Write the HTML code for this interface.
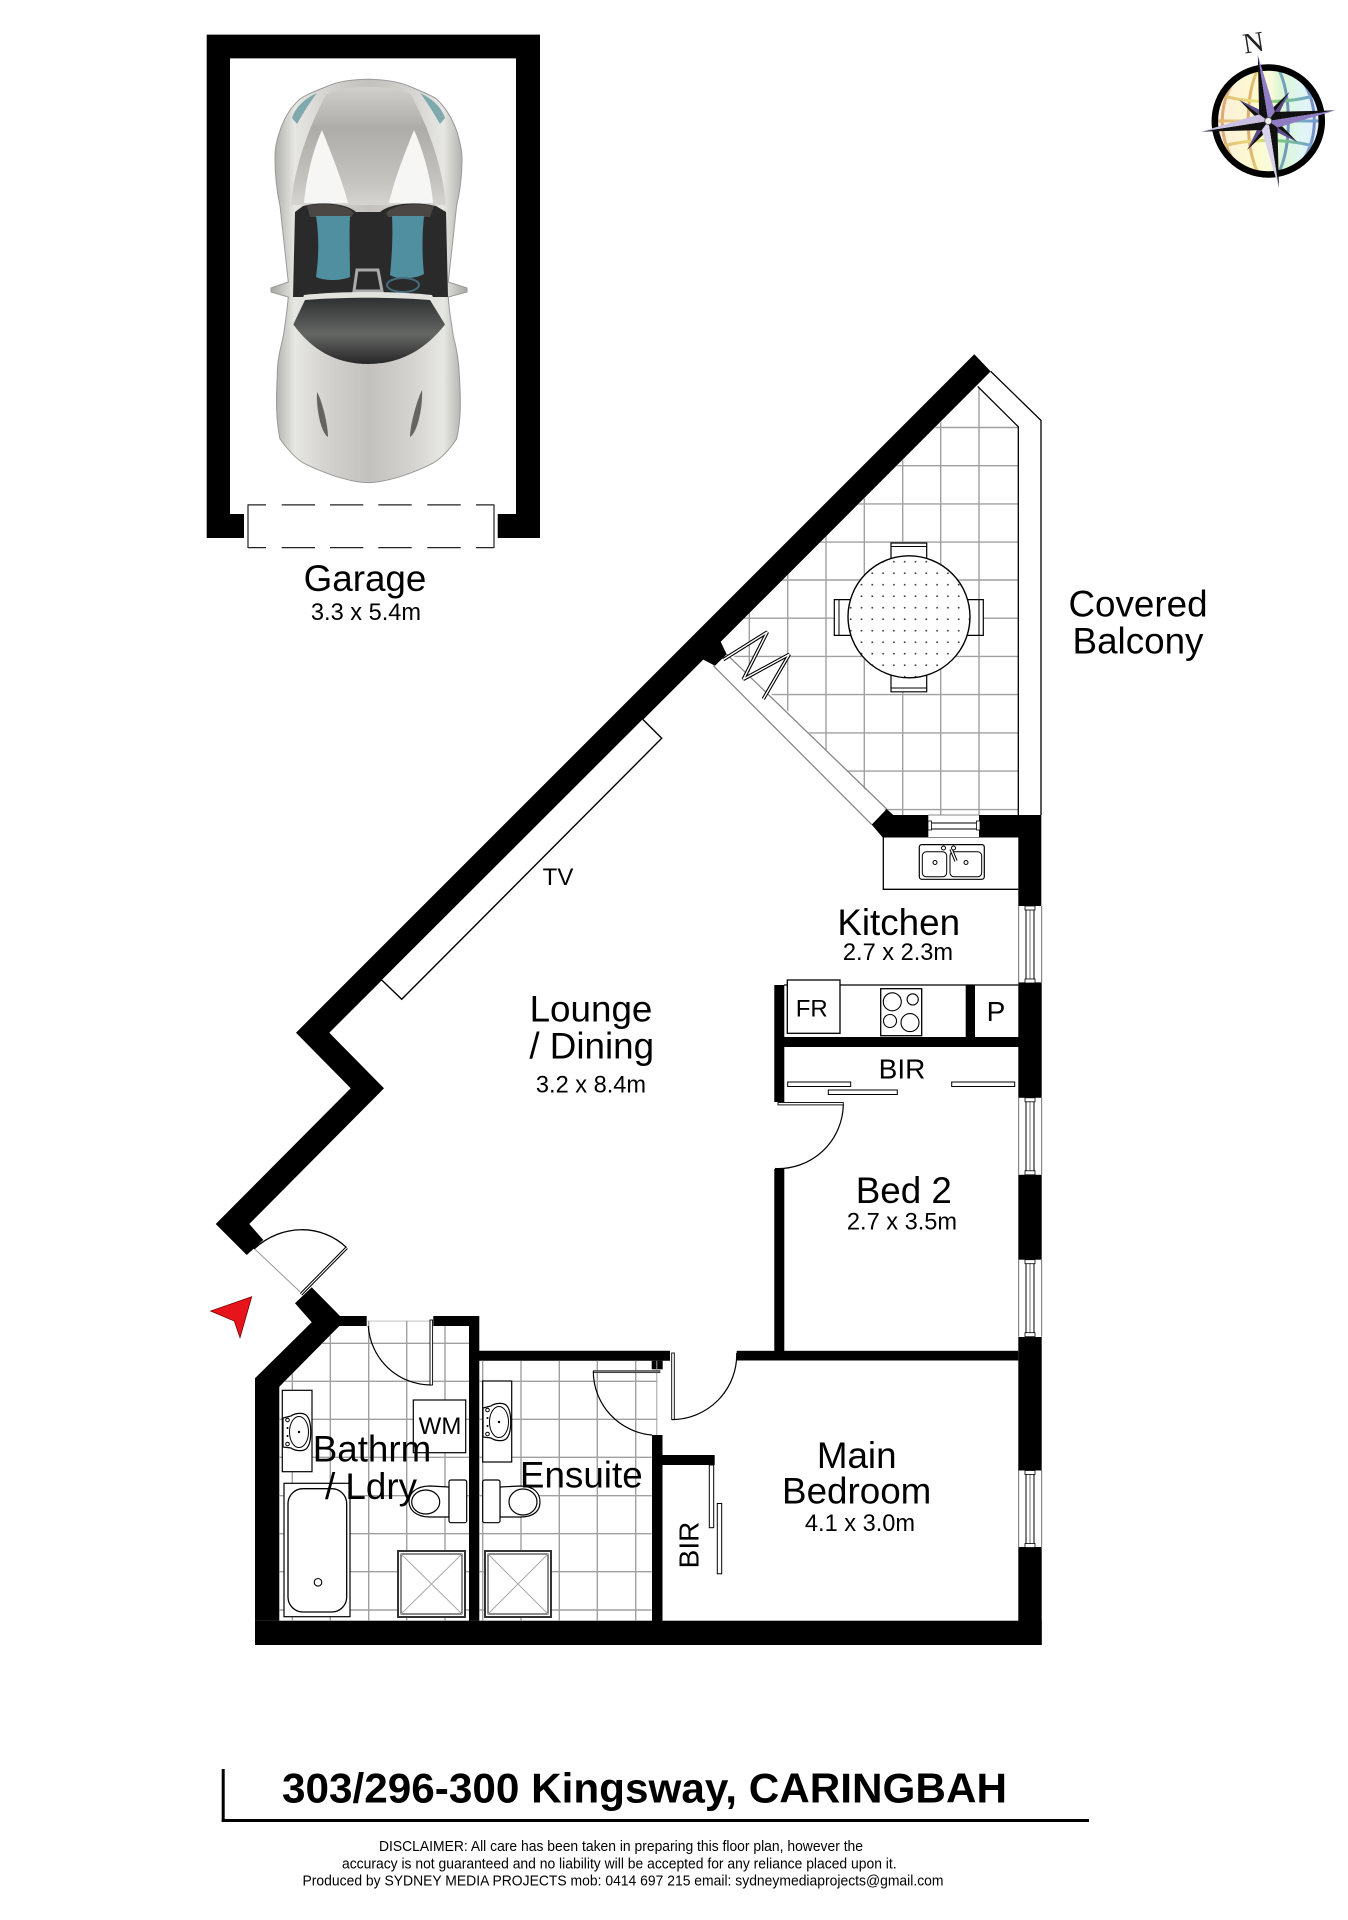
<!DOCTYPE html>
<html><head><meta charset="utf-8"><title>303/296-300 Kingsway, CARINGBAH</title>
<style>html,body{margin:0;padding:0;background:#fff}svg{display:block}
text{font-family:"Liberation Sans",sans-serif;fill:#000;text-anchor:middle}
.l{font-size:36.8px}.s{font-size:23.6px}.m{font-size:24px}.b{font-size:28px}
.d{font-size:14.5px}</style></head><body>
<svg width="1348" height="1920" viewBox="0 0 1348 1920" xmlns="http://www.w3.org/2000/svg">
<defs>
<clipPath id="cb"><polygon points="976.7,386.4 1018.3,426.8 1018.3,815 890,815 720,642"/></clipPath>
<clipPath id="c1"><polygon points="339,1326 367,1326 367,1320.7 433,1320.7 433,1326 469,1326 469,1620.7 279.3,1620.7 279.3,1386.7"/></clipPath>
<clipPath id="c2"><polygon points="479.3,1360.7 657.3,1360.7 657.3,1435 651.7,1435 651.7,1620.7 479.3,1620.7"/></clipPath>
<pattern id="st" width="10.8" height="11.5" patternUnits="userSpaceOnUse" x="848" y="556"><circle cx="2.7" cy="5.7" r=".95" fill="#444"/></pattern>
<linearGradient id="body" x1="0" x2="1" y1="0" y2="0"><stop offset="0" stop-color="#a5a5a1"/><stop offset=".12" stop-color="#e6e6e2"/><stop offset=".3" stop-color="#d2d1cd"/><stop offset=".5" stop-color="#c2c1bd"/><stop offset=".7" stop-color="#d2d1cd"/><stop offset=".88" stop-color="#e6e6e2"/><stop offset="1" stop-color="#a5a5a1"/></linearGradient>
<linearGradient id="hood" x1="0" x2="0" y1="0" y2="1"><stop offset="0" stop-color="#d0cfcb"/><stop offset=".35" stop-color="#adaca8"/><stop offset=".8" stop-color="#c4c3bf"/><stop offset="1" stop-color="#d5d4d0"/></linearGradient>
<linearGradient id="scr" x1="0" x2="0" y1="0" y2="1"><stop offset="0" stop-color="#2e3031"/><stop offset=".55" stop-color="#656765"/><stop offset="1" stop-color="#262626"/></linearGradient>
<linearGradient id="glo" x1="0" x2="1" y1="0" y2="0"><stop offset="0" stop-color="#fbeedd"/><stop offset=".38" stop-color="#fdf9cf"/><stop offset=".52" stop-color="#f8fbdc"/><stop offset=".62" stop-color="#dbf6d4"/><stop offset=".82" stop-color="#e0f5f5"/><stop offset="1" stop-color="#e6eefb"/></linearGradient>
<linearGradient id="grd" x1="0" x2="1" y1="0" y2="0"><stop offset="0" stop-color="#c97c30"/><stop offset=".4" stop-color="#dfd040"/><stop offset=".6" stop-color="#2fa84a"/><stop offset=".85" stop-color="#2f6fb0"/><stop offset="1" stop-color="#2a4ea8"/></linearGradient>
<clipPath id="gc"><circle cx="0" cy="0" r="53"/></clipPath>
<g id="basin"><path d="M283 1418 L291 1416 C295 1413 304 1412 307 1416 C312 1422 312 1442 307 1448 C304 1452 295 1451 291 1448 L283 1447 Z" fill="#fff" stroke="#000" stroke-width="1.2"/><ellipse cx="299" cy="1432" rx="9.5" ry="15.5" fill="#fff" stroke="#000" stroke-width="1"/><circle cx="299" cy="1432" r="1.2"/><circle cx="287.5" cy="1420" r="1.8" fill="#fff" stroke="#000"/><circle cx="287.5" cy="1428" r="1" /><circle cx="287.5" cy="1436" r="1"/><circle cx="287.5" cy="1444" r="1.8" fill="#fff" stroke="#000"/></g>
<g id="win"><rect x="1018" y="0" width="1.2" height="77" fill="#888"/><rect x="1041" y="0" width="1.2" height="77" fill="#888"/><rect x="1026" y="3" width="8" height="71" fill="#fff" stroke="#000" stroke-width="1"/><rect x="1029.5" y="3" width="1" height="71" fill="#777"/><rect x="1025" y="0" width="10" height="4" fill="#fff" stroke="#000" stroke-width=".8"/><rect x="1025" y="73" width="10" height="4" fill="#fff" stroke="#000" stroke-width=".8"/></g>
</defs>
<rect width="1348" height="1920" fill="#fff"/>

<!-- Garage -->
<path d="M206.7 34.6H540V538H497.7V514H516V58.4H230V514H244V538H206.7Z"/>
<path d="M248 504.4V548M494 504.4V548M248 504.9H266M281.7 504.9H315M330 504.9H363.3M378.3 504.9H411.7M427.3 504.9H460.7M476 504.9H494M248 547.6H266M281.7 547.6H315M330 547.6H363.3M378.3 547.6H411.7M427.3 547.6H460.7M476 547.6H494" fill="none" stroke="#222" stroke-width="1.2"/>

<!-- Car -->
<path d="M368.3 79.3C350 79.5 338 82 330 85.2C318 90 307 94 300 99C290 108 284 118 280 130.7C275 145 275 152 275 158.4C275 178 277 192 280 205.8L288.3 282L271 288L271 292L288.3 297C287 312 285 325 283.3 336.3C280 350 277 362 277.3 375.9C276 400 276 420 280 439C288 450 295 458 303.3 462.9C315 469 326 473 336.7 476.7C348 480 358 482.6 368.3 482.6C378 482.6 389 480 400 476.7C411 473 422 469 433.3 462.9C442 458 449 450 456.6 439C461 420 461 400 459.3 375.9C459 362 457 350 453.3 336.3C452 325 449 312 448.3 297L467 292L467 288L448.3 282L456.6 205.8C460 192 462 178 462 158.4C462 152 461 145 456.6 130.7C452 118 446 108 436.6 99C429 94 418 90 406.6 85.2C398 82 386 79.5 368.3 79.3Z" fill="url(#body)" stroke="#999" stroke-width="1"/>
<path d="M326 95C345 84 392 84 411 95C430 130 443 170 446 205H291C294 170 307 130 326 95Z" fill="url(#hood)"/>
<path d="M322 130C330 150 342 180 348 203L304 203C306 178 313 150 322 130Z" fill="#f6f6f4"/>
<path d="M414 130C406 150 394 180 389 203L433 203C431 178 423 150 414 130Z" fill="#f6f6f4"/>
<path d="M292 118C296 106 306 98 317 93C310 102 304 112 297 124Z" fill="#7fa9ad"/>
<path d="M445 118C441 106 431 98 420 93C427 102 433 112 440 124Z" fill="#7fa9ad"/>
<path d="M295 212L303 206C318 202 345 202 356 212H380C392 202 420 202 436 206L446 212L448 297H293Z" fill="#2b2a2a"/>
<path d="M307 206C318 203 345 203 354 213L351 217H310Z" fill="#4a4744"/>
<path d="M386 213C395 203 420 203 434 206L430 217H388Z" fill="#4a4744"/>
<path d="M316 216H350C349 235 350 260 350 277C340 281 325 281 316 277C319 255 319 235 316 216Z" fill="#4f8f9f"/>
<path d="M392 216H424C422 235 422 255 424 274C415 279 398 280 390 275C392 255 393 235 392 216Z" fill="#4f8f9f"/>
<path d="M357 270H378L382 291H354Z" fill="none" stroke="#aaa" stroke-width="3"/>
<ellipse cx="403" cy="285" rx="16" ry="7" fill="none" stroke="#456a7c" stroke-width="2"/>
<path d="M293.3 324.5L304 295C340 291 396 291 432 295L445 324.5C425 350 400 364 368 364C336 364 312 350 293.3 324.5Z" fill="#e2e2de"/>
<path d="M293.3 324.5L305 300C340 297 396 297 430 300L445 324.5C425 350 400 364 368 364C336 364 312 350 293.3 324.5Z" fill="url(#scr)"/>
<path d="M317 392C322 400 328 425 328 437C320 432 316 405 317 392Z" fill="#66645f"/>
<path d="M422 390C417 400 410 425 410 437C418 432 423 405 422 390Z" fill="#66645f"/>

<!-- Balcony -->
<g clip-path="url(#cb)" stroke="#a0a0a0" stroke-width="1.4" fill="none">
<path d="M749.3 380V820M787.7 380V820M826 380V820M864.3 380V820M902.7 380V820M940.7 380V820M979 380V820"/>
<path d="M700 427.5H1020M700 465.7H1020M700 503.9H1020M700 542.1H1020M700 580H1020M700 618.2H1020M700 656.4H1020M700 694.6H1020M700 732.9H1020M700 771.1H1020M700 809.6H1020"/>
</g>
<polygon points="891,543 926.7,543 926.7,565 891,565" fill="#fff" stroke="#000" stroke-width="1.2"/><path d="M891 546.5H926.7" stroke="#000" stroke-width="1"/>
<polygon points="891,670 926.7,670 926.7,691.8 891,691.8" fill="#fff" stroke="#000" stroke-width="1.2"/><path d="M891 688H926.7" stroke="#000" stroke-width="1"/>
<polygon points="834.3,599.6 855,599.6 855,635.4 834.3,635.4" fill="#fff" stroke="#000" stroke-width="1.2"/><path d="M839 599.6V635.4" stroke="#000" stroke-width="1"/>
<polygon points="963,599.6 983.3,599.6 983.3,635.4 963,635.4" fill="#fff" stroke="#000" stroke-width="1.2"/><path d="M979 599.6V635.4" stroke="#000" stroke-width="1"/>
<circle cx="909" cy="616.8" r="61" fill="#fff"/>
<circle cx="909" cy="616.8" r="61" fill="url(#st)" stroke="#000" stroke-width="1.4"/>
<path d="M990.7 371.4L1041 420.4V815M977.7 386.4L1018.3 426.8V815" fill="none" stroke="#000" stroke-width="1.3"/>
<path d="M726.7 654.3L886.7 809M713.3 665.7L871.7 824.6" stroke="#888" stroke-width="1.3" fill="none"/>
<path d="M723.3 659.6L767.3 632L743.3 679.3L789.3 654.3L763.3 699" fill="none" stroke="#000" stroke-width="3.6" stroke-linejoin="bevel"/>
<path d="M723.3 659.6L767.3 632L743.3 679.3L789.3 654.3L763.3 699" fill="none" stroke="#fff" stroke-width="1.4" stroke-linejoin="bevel"/>

<!-- Main walls -->
<polygon points="974.3,354.3 990.7,371.4 720.7,641.8 726.7,654.3 715,665.7 703.3,659.6 329.3,1032.7 384,1088.3 249.3,1224 263.3,1240 246.7,1255 215.7,1224 350.7,1088.3 296,1032.7"/>
<polygon points="311.7,1287.3 340,1316 366.7,1316 366.7,1326 339.3,1326 279.3,1386.7 279.3,1620.7 255,1620.7 255,1378.3 311.7,1322.3 295,1303.3"/>
<polygon points="433.3,1316 479.3,1316 479.3,1350.7 670,1350.7 670,1360.7 479.3,1360.7 479.3,1620.7 469,1620.7 469,1326 433.3,1326"/>
<rect x="255" y="1620.7" width="786.7" height="24.3"/>
<rect x="651.7" y="1360.7" width="11" height="8.6"/>
<rect x="652" y="1435" width="10.5" height="186"/>
<rect x="662" y="1455" width="52.7" height="10"/>
<rect x="736.7" y="1350.8" width="281.6" height="9.7"/>
<rect x="774.3" y="1169" width="10" height="182"/>
<rect x="774.3" y="985" width="10" height="117"/>
<rect x="784" y="1037" width="234.5" height="10"/>
<rect x="965.7" y="985" width="9.3" height="62"/>
<!-- right wall -->
<rect x="1018.3" y="815" width="23" height="91"/>
<rect x="1018.3" y="982.4" width="23.4" height="115.4"/>
<rect x="1018.3" y="1174.8" width="23.4" height="84.9"/>
<rect x="1018.3" y="1337" width="23.4" height="133.5"/>
<rect x="1018.3" y="1547" width="23.4" height="98"/>
<use href="#win" x="0" y="906"/><use href="#win" x="0" y="1097.8"/><use href="#win" x="0" y="1259.7"/><use href="#win" x="0" y="1470.5"/>
<!-- kitchen top walls -->
<polygon points="871.7,824.6 886.7,809 893.3,815 928.3,815 928.3,837.5 882.7,837.5"/>
<rect x="979" y="815" width="40" height="22.5"/>
<path d="M928.3 815H979M928.3 837.5H979" stroke="#888" stroke-width="1" />
<rect x="931" y="823" width="46" height="6" fill="#fff" stroke="#000" stroke-width="1"/>
<rect x="928" y="821" width="3.5" height="9" fill="#fff" stroke="#000" stroke-width=".8"/><rect x="976.5" y="821" width="3.5" height="9" fill="#fff" stroke="#000" stroke-width=".8"/>

<!-- Kitchen fittings -->
<path d="M883.3 837.5V889.3H1018.3" fill="none" stroke="#000" stroke-width="1.3"/>
<rect x="919.3" y="844.6" width="65" height="34.7" rx="2.5" fill="#fff" stroke="#000" stroke-width="1.2"/>
<rect x="922.3" y="851.8" width="24.4" height="25" rx="4" fill="#fff" stroke="#000" stroke-width="1"/>
<rect x="950" y="851.8" width="31.7" height="25" rx="4" fill="#fff" stroke="#000" stroke-width="1"/>
<circle cx="935" cy="862.5" r="2" fill="#fff" stroke="#000"/><circle cx="966" cy="862.5" r="2" fill="#fff" stroke="#000"/>
<path d="M951 849L956 861" stroke="#000" stroke-width="3.4"/><path d="M951 849L956 861" stroke="#fff" stroke-width="1.4"/>
<circle cx="943.5" cy="848" r="2" fill="#fff" stroke="#000"/><circle cx="953.5" cy="848" r="2" fill="#fff" stroke="#000"/>
<path d="M784 985H1018.3" stroke="#000" stroke-width="1.2"/>
<rect x="787.3" y="980" width="52.7" height="53.3" fill="#fff" stroke="#000" stroke-width="1.3"/>
<rect x="880.7" y="988.7" width="41" height="47" fill="#fff" stroke="#000" stroke-width="1.3"/>
<g fill="#fff" stroke="#000" stroke-width="1.1"><circle cx="892.3" cy="1001.8" r="9"/><circle cx="912.7" cy="999.4" r="5.6"/><circle cx="890" cy="1021" r="6.5"/><circle cx="910" cy="1022.6" r="9"/></g>
<rect x="787.7" y="1082" width="63" height="4.5" fill="#fff" stroke="#000" stroke-width="1"/>
<rect x="828.3" y="1090" width="69" height="4.5" fill="#fff" stroke="#000" stroke-width="1"/>
<rect x="951.7" y="1082" width="63" height="4.5" fill="#fff" stroke="#000" stroke-width="1"/>
<rect x="709.3" y="1465" width="4.4" height="62.7" fill="#fff" stroke="#000" stroke-width="1"/>
<rect x="717.3" y="1503.5" width="4.4" height="70.3" fill="#fff" stroke="#000" stroke-width="1"/>

<!-- Doors -->
<rect x="778" y="1102.5" width="65.3" height="2.4" fill="#fff" stroke="#000" stroke-width=".9"/>
<path d="M843.3 1104.6A65 65 0 0 1 775 1168.5" fill="none" stroke="#000" stroke-width="1.2"/>
<rect x="671.7" y="1353" width="2.6" height="66.6" fill="#fff" stroke="#000" stroke-width=".9"/>
<path d="M736.7 1353A65 65 0 0 1 671.7 1419.6" fill="none" stroke="#000" stroke-width="1.2"/>
<path d="M254 1249C282 1223 322 1224 346.7 1247.7" fill="none" stroke="#000" stroke-width="1.3"/>
<path d="M255 1249.3L300 1291.7" stroke="#999" stroke-width="1"/>
<path d="M346.7 1247.7L301 1294.3" stroke="#000" stroke-width="3.2"/><path d="M346.7 1247.7L301 1294.3" stroke="#fff" stroke-width="1.1"/>
<polygon points="251.7,1296.7 210.7,1311 234.3,1321 240,1337.7" fill="#e8141c" stroke="#700" stroke-width=".8"/>

<!-- Bathroom tiles -->
<g stroke="#a0a0a0" stroke-width="1.4" fill="none">
<g clip-path="url(#c1)"><path d="M292.3 1320V1625M330.3 1320V1625M368.7 1320V1625M406.7 1320V1625M445 1320V1625"/><path d="M275 1343.3H470M275 1381.3H470M275 1419.3H470M275 1457.3H470M275 1495.7H470M275 1533.7H470M275 1571.7H470M275 1610H470"/><path d="M367 1320.7H433"/></g>
<g clip-path="url(#c2)"><path d="M482.7 1360V1625M521 1360V1625M559.3 1360V1625M597.3 1360V1625M635.7 1360V1625M657 1360V1436"/><path d="M479 1381.3H660M479 1419.3H660M479 1457.3H660M479 1495.7H660M479 1533.7H660M479 1571.7H660M479 1610H660"/></g>
</g>
<!-- door bath/ensuite -->
<path d="M368.3 1326A63 63 0 0 0 431 1385" fill="none" stroke="#000" stroke-width="1.2"/>
<rect x="430" y="1320" width="2.6" height="65" fill="#fff" stroke="#000" stroke-width=".9"/>
<rect x="593.3" y="1370.6" width="66.7" height="2.2" fill="#777" stroke="#000" stroke-width=".5"/>
<path d="M593.3 1371.3A64 64 0 0 0 652 1435" fill="none" stroke="#000" stroke-width="1.2"/>

<!-- Bath fixtures -->
<rect x="282.3" y="1390.3" width="29.7" height="81.4" fill="#fff" stroke="#000" stroke-width="1.2"/>
<use href="#basin"/>
<rect x="482.7" y="1381" width="29" height="81" fill="#fff" stroke="#000" stroke-width="1.2"/>
<use href="#basin" x="200" y="-10"/>
<rect x="413.3" y="1400" width="52.4" height="52.7" fill="#fff" stroke="#000" stroke-width="1.2"/>
<rect x="284" y="1483.3" width="66" height="133.4" fill="#fff" stroke="#000" stroke-width="1.2"/>
<rect x="288" y="1488.7" width="58.7" height="123.3" rx="15" fill="#fff" stroke="#000" stroke-width="1.3"/>
<circle cx="318" cy="1582.3" r="3.8" fill="#fff" stroke="#000" stroke-width="1.1"/>
<path d="M449 1487L430 1486C415 1486 409 1494 409 1501.5C409 1509 415 1517 430 1517L449 1517Z" fill="#fff" stroke="#000" stroke-width="1.2"/>
<ellipse cx="425.7" cy="1502" rx="14" ry="12" fill="#fff" stroke="#000" stroke-width="1.2"/>
<rect x="449" y="1480" width="17.7" height="42.7" rx="2" fill="#fff" stroke="#000" stroke-width="1.2"/>
<path d="M500 1487L520 1486C535 1486 540 1494 540 1502C540 1510 535 1517 520 1517L500 1517Z" fill="#fff" stroke="#000" stroke-width="1.2"/>
<ellipse cx="523" cy="1502" rx="14" ry="13" fill="#fff" stroke="#000" stroke-width="1.2"/>
<rect x="482.7" y="1480" width="17.3" height="42.7" rx="2" fill="#fff" stroke="#000" stroke-width="1.2"/>
<g fill="#fff" stroke="#333" stroke-width="2"><rect x="398" y="1551" width="67" height="66"/><rect x="485" y="1551" width="66" height="66"/></g>
<g fill="none" stroke="#000" stroke-width=".9"><rect x="401" y="1554" width="61" height="60"/><rect x="488" y="1554" width="60" height="60"/></g>
<path d="M401 1554L462 1614M462 1554L401 1614M488 1554L548 1614M548 1554L488 1614" stroke="#aaa" stroke-width="1"/>

<!-- TV -->
<path d="M381.7 980L401.7 999.3L661.7 738.3L642.7 719.3" fill="#fff" stroke="#000" stroke-width="1.4"/>

<!-- Title lines -->
<rect x="221.7" y="1769" width="3" height="53"/>
<rect x="221.7" y="1819" width="867.3" height="3"/>

<!-- Labels -->
<text class="l" x="365" y="591">Garage</text>
<text class="s" x="366" y="620">3.3 x 5.4m</text>
<text class="l" x="1138" y="616.7">Covered</text>
<text class="l" x="1138" y="653.3">Balcony</text>
<text class="m" x="558" y="885">TV</text>
<text class="l" x="591" y="1021.7">Lounge</text>
<text class="l" x="591.7" y="1058.3">/ Dining</text>
<text class="s" x="591" y="1092.3">3.2 x 8.4m</text>
<text class="l" x="898.7" y="934.9">Kitchen</text>
<text class="s" x="898" y="960">2.7 x 2.3m</text>
<text class="m" x="811.7" y="1016.3">FR</text>
<text class="b" x="996" y="1021">P</text>
<text class="b" x="902" y="1078.4">BIR</text>
<text class="l" x="903.8" y="1203">Bed 2</text>
<text class="s" x="902" y="1229.6">2.7 x 3.5m</text>
<text class="l" x="856.7" y="1468">Main</text>
<text class="l" x="856.7" y="1503.5">Bedroom</text>
<text class="s" x="860" y="1531">4.1 x 3.0m</text>
<text class="b" transform="translate(698.3 1545) rotate(-90)" x="0" y="0">BIR</text>
<text class="l" x="372" y="1461.7">Bathrm</text>
<text class="l" x="371" y="1499">/ Ldry</text>
<text class="l" x="581.3" y="1487.3">Ensuite</text>
<text class="m" x="440" y="1434">WM</text>

<text x="644.5" y="1802.7" style="font-size:42px;font-weight:700" textLength="725" lengthAdjust="spacingAndGlyphs">303/296-300 Kingsway, CARINGBAH</text>
<text class="d" x="621" y="1851" textLength="484" lengthAdjust="spacingAndGlyphs">DISCLAIMER: All care has been taken in preparing this floor plan, however the</text>
<text class="d" x="619.3" y="1868.3" textLength="554.6" lengthAdjust="spacingAndGlyphs">accuracy is not guaranteed and no liability will be accepted for any reliance placed upon it.</text>
<text class="d" x="623" y="1885.7" textLength="641" lengthAdjust="spacingAndGlyphs">Produced by SYDNEY MEDIA PROJECTS mob: 0414 697 215 email: sydneymediaprojects@gmail.com</text>

<!-- Compass -->
<text transform="translate(1255 52) rotate(-9)" x="0" y="0" style="font-family:'Liberation Serif',serif;font-size:29px;fill:#222">N</text>
<g transform="translate(1268.3 121)">
<circle r="53" fill="url(#glo)"/>
<g clip-path="url(#gc)" fill="none" stroke="url(#grd)" stroke-width="3" opacity=".6">
<ellipse rx="46" ry="60"/><ellipse rx="20" ry="60"/><path d="M-60 -30C-25 -16 25 -16 60 -30M-60 30C-25 16 25 16 60 30M-60 0H60"/>
</g>
<circle r="53.5" fill="none" stroke="#000" stroke-width="6.5"/>
<g transform="rotate(-9)">
<polygon points="0,-36 -5,-8 0,0" fill="#111" transform="rotate(45)"/><polygon points="0,-36 5,-8 0,0" fill="#5b4a8a" transform="rotate(45)"/>
<polygon points="0,-36 -5,-8 0,0" fill="#111" transform="rotate(135)"/><polygon points="0,-36 5,-8 0,0" fill="#5b4a8a" transform="rotate(135)"/>
<polygon points="0,-36 -5,-8 0,0" fill="#111" transform="rotate(225)"/><polygon points="0,-36 5,-8 0,0" fill="#5b4a8a" transform="rotate(225)"/>
<polygon points="0,-36 -5,-8 0,0" fill="#111" transform="rotate(315)"/><polygon points="0,-36 5,-8 0,0" fill="#5b4a8a" transform="rotate(315)"/>
<polygon points="0,-67 -8,-8 0,0" fill="#111"/><polygon points="0,-67 8,-8 0,0" fill="#8f7cc4"/>
<polygon points="68,0 8,-8 0,0" fill="#111"/><polygon points="68,0 8,8 0,0" fill="#8f7cc4"/>
<polygon points="0,68 8,8 0,0" fill="#111"/><polygon points="0,68 -8,8 0,0" fill="#d8d2ea"/>
<polygon points="-68,0 -8,8 0,0" fill="#111"/><polygon points="-68,0 -8,-8 0,0" fill="#c9c0e4"/>
<circle r="3.5" fill="#eee" stroke="#555" stroke-width=".8"/>
</g>
</g>
</svg>
</body></html>
